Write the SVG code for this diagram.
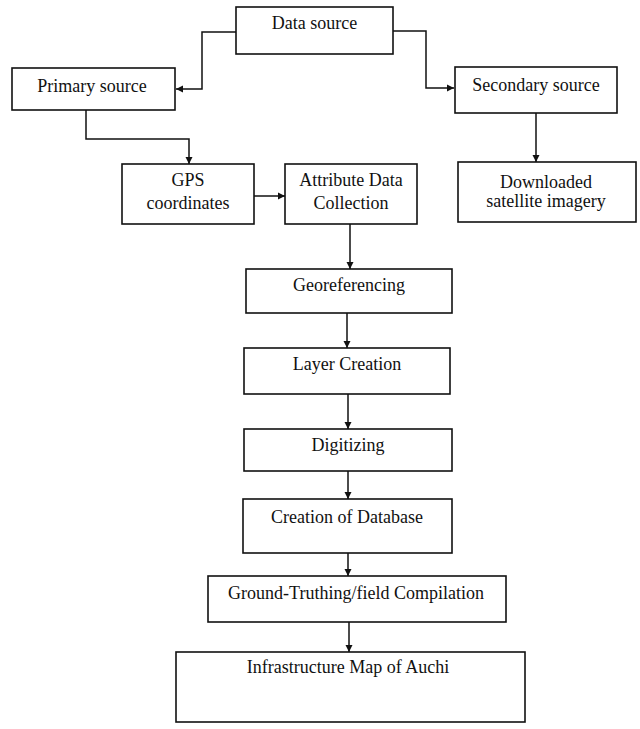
<svg xmlns="http://www.w3.org/2000/svg" width="640" height="729" viewBox="0 0 640 729">
<style>
.box{fill:#fff;stroke:#111;stroke-width:1.6}
.lbl{font-family:"Liberation Serif","Times New Roman",serif;font-size:18px;fill:#111;text-anchor:middle}
.con{fill:none;stroke:#111;stroke-width:1.5}
</style>
<defs>
<marker id="ah" markerUnits="userSpaceOnUse" markerWidth="8" markerHeight="8" refX="7" refY="4" orient="auto">
<path d="M0,0.5 L7,4 L0,7.5 Z" fill="#111"/>
</marker>
</defs>
<rect width="640" height="729" fill="#fff"/>
<g id="connectors">
<path class="con" d="M236,32 H202 V89 H176" marker-end="url(#ah)"/>
<path class="con" d="M393,31 H426 V88 H454" marker-end="url(#ah)"/>
<path class="con" d="M86,110 V139 H189 V164" marker-end="url(#ah)"/>
<path class="con" d="M254,196 H285" marker-end="url(#ah)"/>
<path class="con" d="M536,113 V162" marker-end="url(#ah)"/>
<path class="con" d="M350,224 V269" marker-end="url(#ah)"/>
<path class="con" d="M347,313 V348" marker-end="url(#ah)"/>
<path class="con" d="M348,394 V429" marker-end="url(#ah)"/>
<path class="con" d="M348,471 V499" marker-end="url(#ah)"/>
<path class="con" d="M348,553 V576" marker-end="url(#ah)"/>
<path class="con" d="M349,622 V652" marker-end="url(#ah)"/>
</g>
<g id="data-source"><rect class="box" x="236" y="7" width="157" height="47"/><text class="lbl" x="314.5" y="29">Data source</text></g>
<g id="primary-source"><rect class="box" x="12" y="68" width="163" height="42"/><text class="lbl" x="92" y="92">Primary source</text></g>
<g id="secondary-source"><rect class="box" x="455" y="67" width="162" height="46"/><text class="lbl" x="536" y="91">Secondary source</text></g>
<g id="gps"><rect class="box" x="122" y="164" width="132" height="60"/><text class="lbl" x="188" y="186">GPS</text><text class="lbl" x="188" y="209">coordinates</text></g>
<g id="attribute"><rect class="box" x="285" y="164" width="132" height="60"/><text class="lbl" x="351" y="186">Attribute Data</text><text class="lbl" x="351" y="209">Collection</text></g>
<g id="downloaded"><rect class="box" x="458" y="162" width="178" height="60"/><text class="lbl" x="546" y="188">Downloaded</text><text class="lbl" x="546" y="207">satellite imagery</text></g>
<g id="georeferencing"><rect class="box" x="246" y="269" width="206" height="44"/><text class="lbl" x="349" y="291">Georeferencing</text></g>
<g id="layer-creation"><rect class="box" x="244" y="348" width="206" height="46"/><text class="lbl" x="347" y="370">Layer Creation</text></g>
<g id="digitizing"><rect class="box" x="244" y="429" width="208" height="42"/><text class="lbl" x="348" y="451">Digitizing</text></g>
<g id="creation-db"><rect class="box" x="243" y="499" width="209" height="54"/><text class="lbl" x="347" y="523">Creation of Database</text></g>
<g id="ground-truthing"><rect class="box" x="208" y="576" width="298" height="46"/><text class="lbl" x="356" y="599">Ground-Truthing/field Compilation</text></g>
<g id="infrastructure-map"><rect class="box" x="176" y="652" width="349" height="70"/><text class="lbl" x="348" y="673">Infrastructure Map of Auchi</text></g>
</svg>
